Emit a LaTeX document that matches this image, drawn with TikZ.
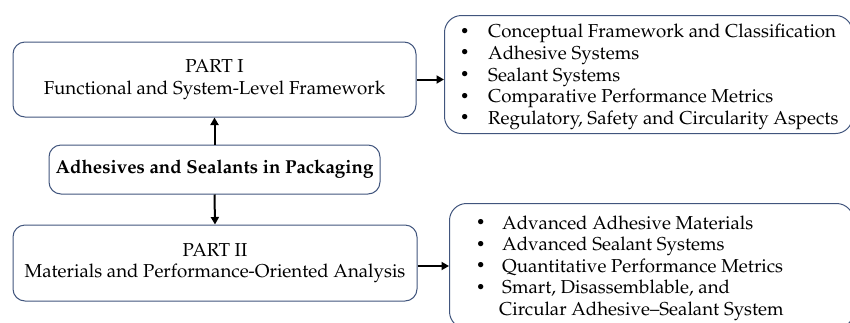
\documentclass[tikz,border=0pt]{standalone}
\usepackage[T1]{fontenc}
\usepackage{mathpazo}
\usepackage{graphicx}
\usetikzlibrary{arrows.meta}
\definecolor{boxline}{RGB}{65,85,125}
\newcommand\bulA{\makebox[27pt][l]{\raisebox{3.6pt}{\scalebox{0.7}{$\bullet$}}}}
\newcommand\bulB{\makebox[25pt][l]{\raisebox{3.6pt}{\scalebox{0.7}{$\bullet$}}}}
\begin{document}
\begin{tikzpicture}[x=1pt,y=-1pt,
  box/.style={draw=boxline, line width=1pt, rounded corners=12pt, inner sep=0pt},
  listbox/.style={box, rounded corners=17pt},
  txt/.style={font=\fontsize{18.7}{21.6}\selectfont, inner sep=0pt, align=center},
  listtxt/.style={font=\fontsize{18.7}{21.6}\selectfont, inner sep=0pt, align=left, anchor=north west},
  conn/.style={-{Triangle[length=7.5pt,width=8pt]}, line width=2pt},
]
\useasboundingbox (0,0) rectangle (850,322);
\clip (0,0) rectangle (850,322);

\node[box, txt, minimum width=403pt, minimum height=75pt] (p1) at (214.5,79.5)
  {PART I\\Functional and System-Level Framework};
\node[box, txt, minimum width=331pt, minimum height=49pt, font=\fontsize{18.7}{21.6}\selectfont\bfseries] (c) at (214.5,169.5)
  {Adhesives and Sealants in Packaging};
\node[box, txt, minimum width=404pt, minimum height=76pt] (p2) at (215,263)
  {PART II\\Materials and Performance-Oriented Analysis};

\node[listbox, minimum width=408pt, minimum height=118pt, anchor=north west] (r1) at (444,15) {};
\node[listtxt] (r1t) at (461,24.1)
  {\bulA Conceptual Framework and Classification\\
   \bulA Adhesive Systems\\
   \bulA Sealant Systems\\
   \bulA Comparative Performance Metrics\\
   \bulA Regulatory, Safety and Circularity Aspects};

\node[listbox, minimum width=404pt, minimum height=125pt, anchor=north west] (r2) at (449,203) {};
\node[listtxt] (r2t) at (477,215.4)
  {\bulB Advanced Adhesive Materials\\
   \bulB Advanced Sealant Systems\\
   \bulB Quantitative Performance Metrics\\
   \bulB Smart, Disassemblable, and\\
   \hspace*{22pt}Circular Adhesive--Sealant System};

\draw[conn] (c.north) -- (p1.south);
\draw[conn] (c.south) -- (p2.north);
\draw[conn] (p1.east) -- (p1.east -| r1.west);
\draw[conn] ([yshift=-3pt]p2.east) -- ([yshift=-3pt]p2.east -| r2.west);
\end{tikzpicture}
\end{document}
